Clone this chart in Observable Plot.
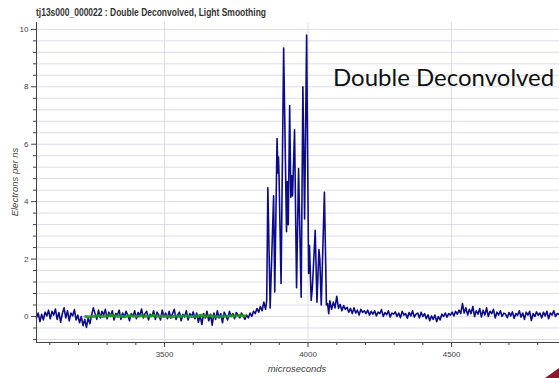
<!DOCTYPE html>
<html>
<head>
<meta charset="utf-8">
<script src="https://cdn.jsdelivr.net/npm/d3@7"></script>
<script src="https://cdn.jsdelivr.net/npm/@observablehq/plot@0.6"></script>
<style>
  html, body { margin: 0; padding: 0; background: #fff; }
  #wrap { position: relative; width: 559px; height: 378px; overflow: hidden; }
  .lbl { position: absolute; font-family: "Liberation Sans", Arial, sans-serif; color: #444; white-space: nowrap; }
  #ylab { font-style: italic; font-size: 9.5px; left: 14px; top: 182px; transform: translate(-50%, -50%) rotate(-90deg); }
  #xlab { font-style: italic; font-size: 9.5px; left: 297px; top: 368px; transform: translate(-50%, -50%); }
  #anno { font-family: Lato, "Open Sans", sans-serif; font-size: 24px; color: #111; left: 333px; top: 62px; }
  #corner { position: absolute; right: 0; bottom: 0; width: 14px; height: 10px; background: #8a1b2d; clip-path: polygon(100% 0, 100% 100%, 0 100%); }
  #titlesvg { position: absolute; left: 0; top: 0; overflow: visible; }
</style>
</head>
<body>
<div id="wrap"></div>
<script>
// ---- tick labels / axes ----
const xDomain = [3054, 4876];
const yDomain = [-0.906, 10.24];
const xMajorTicks = [3500, 4000, 4500];
const xMinorTicks = [3100, 3200, 3300, 3400, 3600, 3700, 3800, 3900, 4100, 4200, 4300, 4400, 4600, 4700, 4800];
const yMajorTicks = [0, 2, 4, 6, 8, 10];
const yMinorTicks = [-0.8, -0.4, 0.4, 0.8, 1.2, 1.6, 2.4, 2.8, 3.2, 3.6, 4.4, 4.8, 5.2, 5.6, 6.4, 6.8, 7.2, 7.6, 8.4, 8.8, 9.2, 9.6];

// ---- blue series: baseline before the burst (start 3054, every 6 µs) ----
const preStart = 3054, preStep = 6;
const preValues = [
  -0.05, 0.12, -0.18, 0.08, -0.12, 0.15, 0.02, 0.22, -0.08, 0.18, 0.05, 0.26, -0.1, 0.14, -0.2, 0.1, 0.3, -0.05, 0.2, -0.15, 0.12, 0.02, 0.24, -0.12, 0.05,
  -0.22, 0.0, -0.32, -0.1, -0.38, -0.05, -0.25, 0.05, 0.3, 0.1, -0.1, 0.22, -0.05, 0.18, 0.05, 0.25,
  -0.08, 0.15, 0.0, 0.2, -0.12, 0.1, 0.05, 0.22, -0.1, 0.12, -0.02, 0.18, 0.05, -0.15, 0.1, 0.0, 0.2, -0.08, 0.14, 0.02, 0.26, -0.05, 0.1, 0.18, -0.12, 0.08, 0.0, 0.2, -0.1, 0.15,
  0.05, -0.12, 0.22, 0.0, 0.12, -0.08, 0.18, -0.05, 0.1, 0.25, -0.1, 0.05, 0.15, -0.15, 0.08, -0.02, 0.2, -0.12, 0.1, 0.0, 0.16, -0.08, 0.12, -0.2, 0.05, -0.28, 0.1, -0.05, 0.18, -0.15,
  0.08, -0.3, 0.12, -0.1, 0.2, -0.05, 0.1, -0.22, 0.15, 0.02, -0.12, 0.18, 0.0, 0.1, -0.08, 0.14, 0.05, -0.05, 0.12, 0.02,
  -0.1, 0.05, -0.05, 0.12, 0.0, 0.18, 0.1, 0.28, 0.15, 0.35, 0.2, 0.5
];

// ---- blue series: the burst ----
const burstTimes = [3852, 3856, 3860, 3868, 3880, 3884, 3892, 3895, 3897, 3899, 3906, 3915, 3925, 3928, 3931, 3936, 3940, 3943, 3946, 3953, 3960, 3967, 3976, 3982, 3988, 3995, 4002, 4005, 4011, 4015, 4025, 4031, 4038, 4041, 4046, 4057, 4064, 4068, 4072];
const burstValues = [0.25, 0.55, 4.48, 0.3, 4.2, 0.85, 6.2, 5.0, 5.55, 4.9, 1.15, 9.35, 2.95, 4.7, 3.2, 7.35, 4.15, 4.9, 4.2, 6.5, 1.0, 5.15, 0.67, 8.0, 3.4, 9.8, 1.5, 2.47, 0.56, 1.0, 3.0, 0.5, 2.33, 2.0, 0.4, 4.33, 0.4, 0.45, 0.1];

// ---- blue series: tail after the burst (start 4076, every 6 µs) ----
const postStart = 4076, postStep = 6;
const postValues = [
  0.55, 0.25, 0.5, 0.3, 0.7, 0.28, 0.42, 0.2, 0.38, 0.25,
  0.32, 0.15, 0.28, 0.1, 0.3, 0.12, 0.22, 0.05, 0.25, 0.14, 0.2,
  0.1, 0.22, 0.05, 0.18, 0.08, 0.2, 0.02, 0.15, 0.1, 0.24, 0.0, 0.14, 0.06, 0.2, -0.02, 0.12, 0.08,
  0.16, 0.0, 0.12, -0.04, 0.18, 0.05, 0.1, -0.06, 0.14, 0.02, 0.2, -0.02, 0.08, 0.12, -0.05, 0.15, 0.0,
  0.1, -0.08, 0.06, -0.15, 0.02, -0.1, 0.05, -0.18, 0.0, -0.12, 0.08, 0.0, 0.12, -0.02, 0.1, 0.05, 0.15,
  0.02, 0.18, 0.08, 0.22, 0.1, 0.45, 0.12, 0.3, 0.05, 0.25, 0.1, 0.35, 0.0, 0.2, 0.08, 0.28, -0.02,
  0.22, 0.05, 0.3, 0.0, 0.18, 0.1, 0.25, -0.05, 0.15, 0.05, 0.2, 0.0, 0.12, 0.08, -0.04, 0.14, 0.02,
  0.16, -0.06, 0.1, 0.04, 0.2, -0.02, 0.12, -0.1, 0.15, 0.05, 0.18, -0.14, 0.1, 0.0, 0.16, 0.04, 0.12,
  -0.05, 0.15, 0.02, 0.18, -0.08, 0.12, 0.05, 0.2, 0.0, 0.1, 0.08
];

// ---- green series: smoothed baseline (start 3225, every 15 µs) ----
const greenStart = 3225, greenStep = 15;
const greenValues = [0.0, -0.02, 0.01, 0.03, 0.0, 0.02, 0.04, 0.01, 0.02, -0.01, 0.03, 0.02, 0.0, 0.03, 0.01, 0.02, 0.04, 0.0, 0.02, 0.01, -0.02, 0.02, 0.0, 0.03, 0.01, 0.0, 0.02, 0.04, 0.01, 0.03, 0.0, -0.01, 0.02, 0.01, 0.03, 0.02, 0.04, 0.02];

// ---- build tables ----
const blue = [
  ...preValues.map((v, i) => ({t: preStart + i * preStep, v})),
  ...burstValues.map((v, i) => ({t: burstTimes[i], v})),
  ...postValues.map((v, i) => ({t: postStart + i * postStep, v}))
];
const green = greenValues.map((v, i) => ({t: greenStart + i * greenStep, v}));

const chart = Plot.plot({
  width: 559,
  height: 378,
  marginLeft: 36,
  marginRight: 0,
  marginTop: 22,
  marginBottom: 36,
  style: {background: "transparent", fontFamily: "Liberation Sans, Arial, sans-serif", fontSize: "8px", color: "#444"},
  x: {domain: xDomain},
  y: {domain: yDomain},
  marks: [
    Plot.gridY([...yMajorTicks, ...yMinorTicks], {stroke: "#dcdcea", strokeOpacity: 1}),
    Plot.gridX(xMajorTicks, {stroke: "#dcdcea", strokeOpacity: 1}),
    Plot.line(blue, {x: "t", y: "v", stroke: "#0c0c8a", strokeWidth: 1.6, strokeLinejoin: "round"}),
    Plot.line(green, {x: "t", y: "v", stroke: "#1c961c", strokeWidth: 3, strokeOpacity: 0.9}),
    Plot.ruleX([xDomain[0]], {stroke: "#444"}),
    Plot.ruleY([yDomain[0]], {stroke: "#444"}),
    Plot.axisX(xMajorTicks, {tickSize: 5, tickPadding: 4, tickFormat: d => String(d), label: null}),
    Plot.axisX(xMinorTicks, {tickSize: 3, tickFormat: () => "", label: null}),
    Plot.axisY(yMajorTicks, {tickSize: 5, tickPadding: 3, tickFormat: d => String(d), label: null}),
    Plot.axisY(yMinorTicks, {tickSize: 3, tickFormat: () => "", label: null})
  ]
});

const wrap = document.getElementById("wrap");
wrap.appendChild(chart);

// title (kept as real text)
const ns = "http://www.w3.org/2000/svg";
const tsvg = document.createElementNS(ns, "svg");
tsvg.setAttribute("id", "titlesvg");
tsvg.setAttribute("width", "559");
tsvg.setAttribute("height", "24");
const tt = document.createElementNS(ns, "text");
tt.setAttribute("x", "36");
tt.setAttribute("y", "16");
tt.setAttribute("font-family", "Liberation Sans, Arial, sans-serif");
tt.setAttribute("font-weight", "bold");
tt.setAttribute("font-size", "10.5");
tt.setAttribute("fill", "#333");
tt.setAttribute("textLength", "230");
tt.setAttribute("lengthAdjust", "spacingAndGlyphs");
tt.textContent = "tj13s000_000022 : Double Deconvolved, Light Smoothing";
tsvg.appendChild(tt);
wrap.appendChild(tsvg);

function addLabel(id, text) {
  const d = document.createElement("div");
  d.className = "lbl";
  d.id = id;
  d.textContent = text;
  wrap.appendChild(d);
}
addLabel("ylab", "Electrons per ns");
addLabel("xlab", "microseconds");
addLabel("anno", "Double Deconvolved");
const c = document.createElement("div");
c.id = "corner";
wrap.appendChild(c);
</script>
</body>
</html>
